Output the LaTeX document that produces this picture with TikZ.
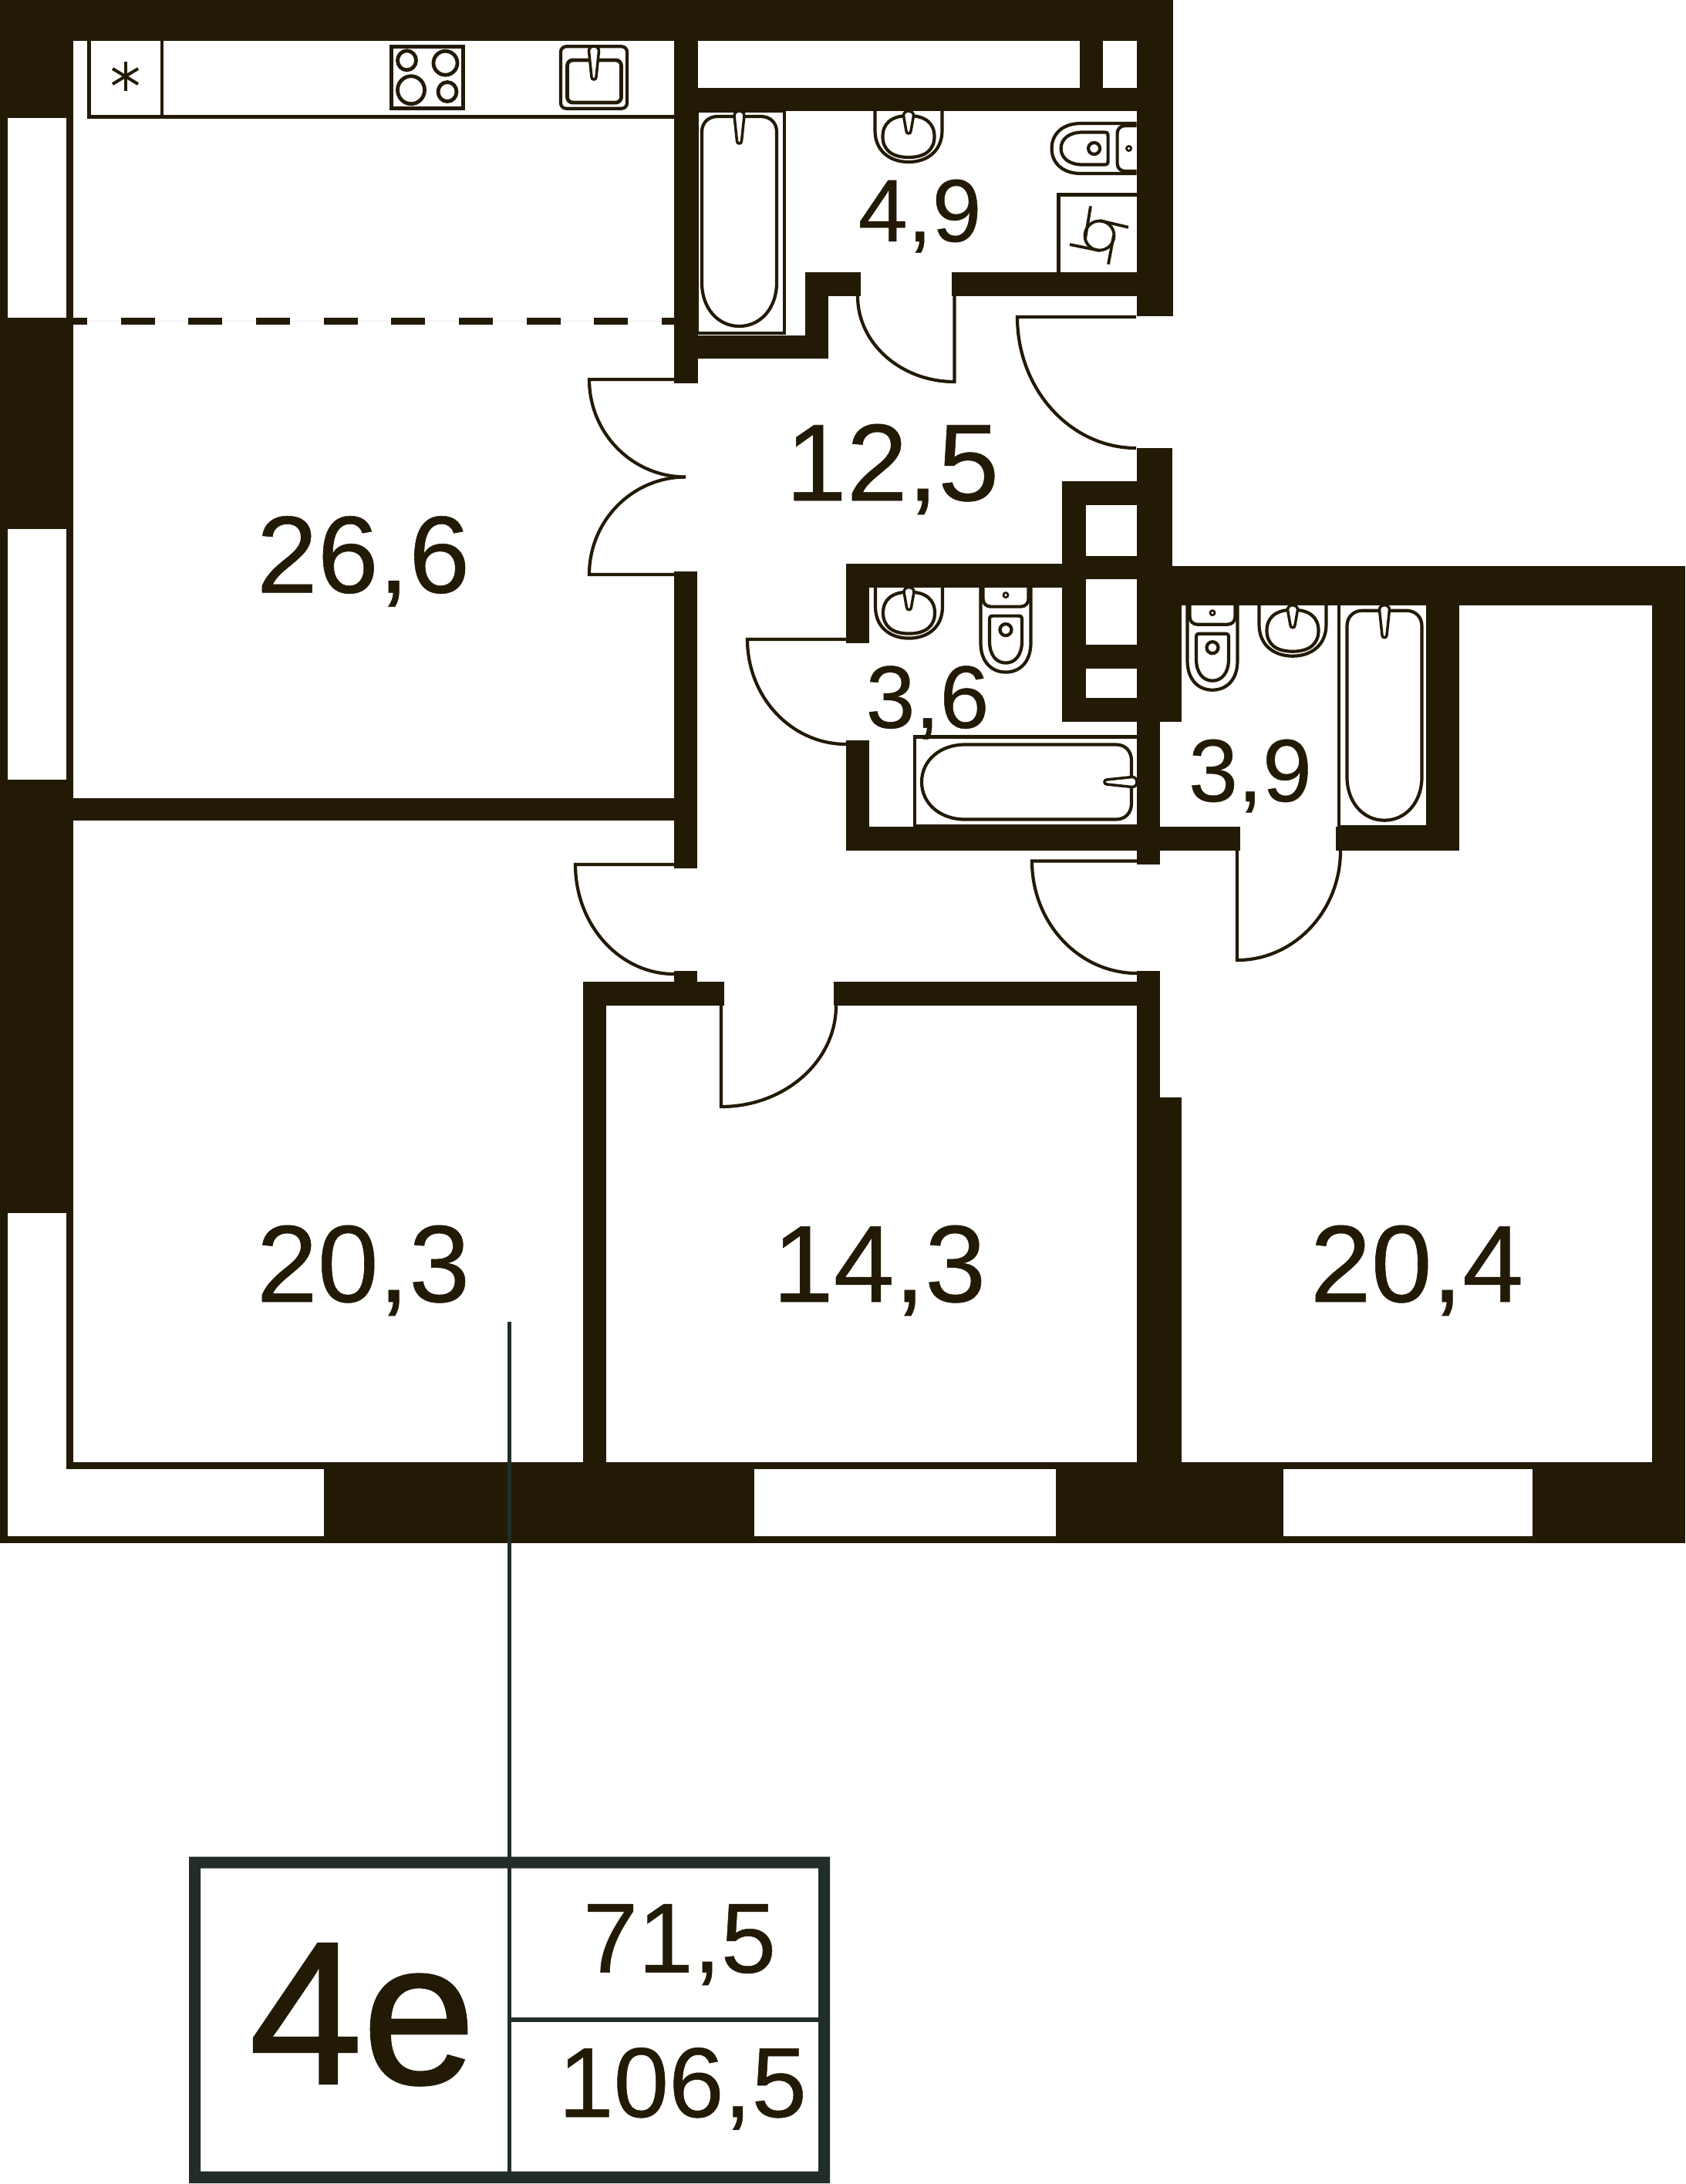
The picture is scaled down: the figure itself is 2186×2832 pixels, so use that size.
\documentclass[tikz,border=0pt]{standalone}
\usepackage{fontspec}
\setmainfont{Liberation Sans}
\newfontfamily\labfont[FakeBold=0.4]{Liberation Sans}
\newfontfamily\bigfont[FakeBold=1.1]{Liberation Sans}
\usetikzlibrary{calc}
\definecolor{wallc}{HTML}{231A06}
\definecolor{leadc}{HTML}{222D27}
\newcommand\fsz[1]{\fontsize{#1}{#1}\selectfont}
\newcommand\swing[4]{\draw[door] (#1) -- (#2) .. controls ($(#2)!0.552!(#4)$) and ($(#3)!0.552!(#4)$) .. (#3);}
\newcommand\faucetshape[1]{\draw[fix,fill=white,line width=0.35mm] (-6.5,6) .. controls (-6.5,-2) and (6.5,-2) .. (6.5,6)
      -- (3,#1-3) .. controls (3,#1+1) and (-3,#1+1) .. (-3,#1-3) -- cycle;}
\tikzset{
  wall/.style={fill=wallc,draw=none},
  hole/.style={fill=white,draw=none},
  door/.style={draw=wallc,line width=0.42mm,line join=miter},
  fix/.style={draw=wallc,line width=0.42mm},
  heavyfix/.style={draw=wallc,line width=0.48mm},
  area/.style={text=wallc,inner sep=0pt,anchor=base,font=\labfont\fsz{40.4}},
  areasm/.style={text=wallc,inner sep=0pt,anchor=base,font=\labfont\fsz{32.7}},
  areabox/.style={text=wallc,inner sep=0pt,anchor=base,font=\labfont\fsz{36.6}},
  pics/faucet/.style={code={\faucetshape{#1}}},
  pics/toilet/.style={code={
    \draw[fix] (-32.5,0) -- (-32.5,72) .. controls (-32.5,97) and (-18,110) .. (0,110)
      .. controls (18,110) and (32.5,97) .. (32.5,72) -- (32.5,0);
    \draw[fix] (-29.5,0) -- (-29.5,15) .. controls (-29.5,21) and (-25,25) .. (-19.5,25) -- (19.5,25)
      .. controls (25,25) and (29.5,21) .. (29.5,15) -- (29.5,0);
    \draw[fix] (-21,42) .. controls (-21,38) and (-20,37) .. (-16,37) -- (16,37)
      .. controls (20,37) and (21,38) .. (21,42) -- (21,70)
      .. controls (21,88) and (12,98) .. (0,98) .. controls (-12,98) and (-21,88) .. (-21,70) -- cycle;
    \draw[fix] (0,55) circle[radius=7.5];
    \fill[wallc] (0,10) circle[radius=4.5];
    \fill[white] (0,10) circle[radius=1.7];}},
  pics/basin/.style={code={
    \draw[fix] (-43.5,0) -- (-43.5,25) .. controls (-43.5,52) and (-24,66) .. (0,66)
      .. controls (24,66) and (43.5,52) .. (43.5,25) -- (43.5,0);
    \draw[fix] (0,6) .. controls (22,6) and (33.5,16) .. (33.5,33) .. controls (33.5,50) and (22,60) .. (0,60)
      .. controls (-22,60) and (-33.5,50) .. (-33.5,33) .. controls (-33.5,16) and (-22,6) .. (0,6) -- cycle;
    \faucetshape{29}}},
  pics/tub/.style={code={
    \draw[fix] (-48.5,27) .. controls (-48.5,15) and (-40,7) .. (-28,7) -- (28,7)
      .. controls (40,7) and (48.5,15) .. (48.5,27) -- (48.5,223)
      .. controls (48.5,255) and (28,279) .. (0,279) .. controls (-28,279) and (-48.5,255) .. (-48.5,223) -- cycle;
    \faucetshape{42}}}
}
\begin{document}
\begin{tikzpicture}[x=0.01cm,y=-0.01cm]
\useasboundingbox (0,0) rectangle (2186,2832);
\fill[white] (0,0) rectangle (2186,2832);
% ---- walls
\fill[wall] (0,0) rectangle (95,1896);
\fill[wall] (0,0) rectangle (1521,52.7);
\fill[wall] (873.7,0) rectangle (904.5,496.7);
\fill[wall] (904,113.7) rectangle (1473.6,144);
\fill[wall] (1399.5,52) rectangle (1429.5,114);
\fill[wall] (1473.6,0) rectangle (1521,409.5);
\fill[wall] (1234,353) rectangle (1473.6,384);
\fill[wall] (1044,353) rectangle (1116,384);
\fill[wall] (1044,353) rectangle (1073.7,465);
\fill[wall] (904,434.7) rectangle (1073.7,465);
\fill[wall] (95,1035) rectangle (874,1064);
\fill[wall] (874,740.7) rectangle (904,1125.8);
\fill[wall] (1474,581) rectangle (1520,784.7);
\fill[wall] (1377,623.7) rectangle (1474,936);
\fill[wall] (1474,784) rectangle (1531.6,936);
\fill[wall] (1520,734) rectangle (2185,784.7);
\fill[wall] (2141.5,734) rectangle (2185,2001);
\fill[wall] (1848.6,784) rectangle (1892,1102.7);
\fill[wall] (1731.7,1072) rectangle (1892,1102.7);
\fill[wall] (1096.7,731) rectangle (1377,761.6);
\fill[wall] (1096.7,731) rectangle (1126.7,833.5);
\fill[wall] (1096.7,960) rectangle (1126.7,1103);
\fill[wall] (1096.7,1072) rectangle (1608,1103);
\fill[wall] (1474,936) rectangle (1504,1120.5);
\fill[wall] (1474,1259) rectangle (1504,1896);
\fill[wall] (1474,1423) rectangle (1532,1896);
\fill[wall] (756,1273) rectangle (939,1303.7);
\fill[wall] (1081,1273) rectangle (1504,1303.7);
\fill[wall] (756,1273) rectangle (786,1896);
\fill[wall] (874,1259) rectangle (904,1273);
\fill[wall] (0,1896) rectangle (2185,2001);
% ---- shaft holes
\fill[hole] (1408,654.5) rectangle (1474,720.5);
\fill[hole] (1408,751) rectangle (1474,836);
\fill[hole] (1408,867) rectangle (1474,905);
% ---- windows
\fill[hole] (10,152.7) rectangle (86,412);
\fill[hole] (10,686) rectangle (86,1011);
\fill[hole] (10,1573) rectangle (86,1992);
\fill[hole] (10,1905) rectangle (420,1992);
\fill[hole] (978,1905) rectangle (1369,1992);
\fill[hole] (1664,1905) rectangle (1987,1992);
% ---- zone dashes
\draw[black!8,line width=0.1mm] (95,416.7) -- (874,416.7);
\fill[wall] (95,412.2) rectangle (113,421.2);
\foreach \d in {0,...,7}{\fill[wall] ({156.7+87.65*\d},412.2) rectangle ({200.7+87.65*\d},421.2);}
\fill[wall] (858,412.2) rectangle (874,421.2);
% ---- doors
\swing{1237.5,384}{1237.5,495}{1112,384}{1112,495}
\swing{1473,411}{1319,411}{1473,581}{1319,581}
\swing{874,492}{764,492}{889,618.5}{764,618.5}
\swing{874,745}{764,745}{889,618.5}{764,618.5}
\swing{1097,829}{969,829}{1097,965}{969,965}
\swing{1474,1116.5}{1338,1116.5}{1474,1262}{1338,1262}
\swing{874,1121}{746,1121}{874,1263}{746,1263}
\swing{935,1304}{935,1435}{1084,1304}{1084,1435}
\swing{1604,1103}{1604,1245}{1738,1103}{1738,1245}
% ---- kitchen
\draw[fix,line width=0.46mm] (115.5,52.7) -- (115.5,151);
\draw[fix,line width=0.46mm] (210,52.7) -- (210,151);
\draw[fix,line width=0.45mm] (113,151.5) -- (874,151.5);
\draw[fix,line width=0.4mm] (162.5,80) -- (162.5,118);
\draw[fix,line width=0.4mm] (146,89) -- (179,109);
\draw[fix,line width=0.4mm] (146,109) -- (179,89);
\draw[heavyfix] (507.5,60.8) rectangle (600.5,140.2);
\draw[heavyfix] (527.5,78.3) ellipse[x radius=12,y radius=12.5];
\draw[heavyfix] (577.5,81.7) ellipse[x radius=15.5,y radius=15.5];
\draw[heavyfix] (533,116.7) ellipse[x radius=17.5,y radius=18];
\draw[heavyfix] (580,119) ellipse[x radius=12,y radius=12.5];
\draw[fix,rounded corners=2pt] (727,60.3) rectangle (813,140.7);
\draw[heavyfix,rounded corners=2pt] (735.5,78) rectangle (805.5,133);
\pic at (770,60) {faucet=43};
% ---- bath 4.9
\draw[fix] (904,144) rectangle (1017,432);
\pic at (958.5,144) {tub};
\pic at (1178,144) {basin};
\pic[rotate=-90] at (1473.6,192.5) {toilet};
\draw[fix] (1473.6,252.5) -- (1372.5,252.5) -- (1372.5,353);
\draw[fix,line width=0.38mm]
  (1414,267.3) -- (1407,310) (1463,294.7) -- (1426,286)
  (1387,317) -- (1426,325) (1437,342.7) -- (1444,305);
\draw[fix,line width=0.38mm] (1425.5,305.5) circle[radius=19];
% ---- bath 3.6
\pic at (1178.5,761.6) {basin};
\pic at (1304,761.6) {toilet};
\draw[fix] (1474,955.5) -- (1186,955.5) -- (1186,1071) -- (1474,1071);
\pic[rotate=-90] at (1474,1014) {tub};
% ---- bath 3.9
\pic at (1572,784.7) {toilet};
\pic at (1676,784.7) {basin};
\draw[fix,line width=0.45mm] (1735.8,784.7) -- (1735.8,1072);
\draw[fix,line width=0.25mm] (1735.8,1071) -- (1848.6,1071);
\pic at (1795,784.7) {tub};
% ---- area labels
\node[area] (a1) at (471,768.4) {26,6};
\node[area] (a2) at (471,1688) {20,3};
\node[area] (a3) at (1140,1688) {14,3};
\node[area] (a4) at (1837,1688) {20,4};
\node[area] (a5) at (1157,649) {12,5};
\node[areasm] (a6) at (1192.6,313) {4,9};
\node[areasm] (a7) at (1202.5,943.7) {3,6};
\node[areasm] (a8) at (1621,1039) {3,9};
% ---- legend box
\coordinate (leadTop) at (660.5,1714);
\coordinate (leadBot) at (660.5,2816);
\coordinate (divL) at (660.5,2619);
\coordinate (divR) at (1061,2619);
\draw[leadc,line width=0.45mm] (leadTop) -- (leadBot);
\draw[leadc,line width=0.55mm] (divL) -- (divR);
\fill[leadc,even odd rule] (245,2407.7) rectangle (1076,2831) (260,2422.7) rectangle (1061,2815.7);
\node[text=wallc,inner sep=0pt,anchor=base,font=\bigfont\fsz{75}] (t1) at (470,2701.7) {4e};
\node[areabox] (t2) at (881,2557.7) {71,5};
\node[areabox] (t3) at (885,2745) {106,5};
\end{tikzpicture}
\end{document}
